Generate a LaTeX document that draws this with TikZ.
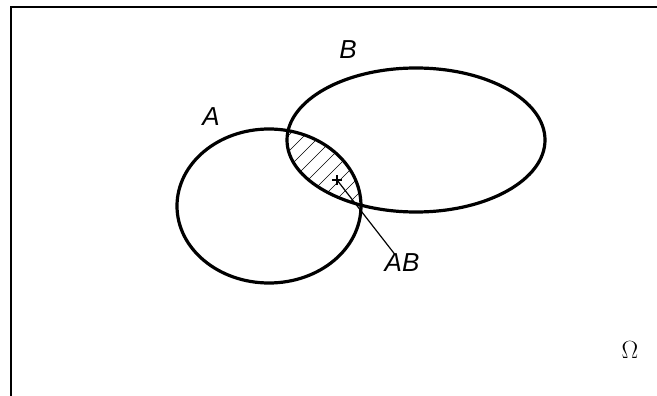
\documentclass[tikz,border=0pt]{standalone}
\usepackage{fontspec}
\newfontfamily\labelfont{Liberation Sans}
\usetikzlibrary{positioning}
\tikzset{
  x=1pt, y=-1pt, % coordinates, y downwards
  setline/.style={line width=3.2pt}, % outline of the sets A and B
  hatch/.style={line width=0.6pt}, % lines inside the intersection
  setlabel/.style={inner sep=0pt, font=\labelfont\itshape\fontsize{26}{26}\selectfont},
}

\begin{document}
\begin{tikzpicture}
    \clip (0,0) rectangle (657,396);
    % sample space
    \draw[line width=2pt] (11,420) -- (11,7) -- (680,7);

    % hatched intersection AB
    \begin{scope}
      \clip (269,206) ellipse [x radius=92pt, y radius=77pt];
      \clip (416,140) ellipse [x radius=129pt, y radius=72pt];
      \foreach \c in {408,424,...,600}
        \draw[hatch] (\c-300,300) -- (\c,0);
    \end{scope}

    \draw[setline] (269,206) ellipse [x radius=92pt, y radius=77pt];
    \draw[setline] (416,140) ellipse [x radius=129pt, y radius=72pt];

    \node[setlabel] (lblA) at (211,117) {A};
    \node[setlabel] (lblB) at (348,50) {B};
    \node[setlabel] (lblAB) at (402,263) {AB};
    \node[inner sep=0pt, font=\fontsize{26}{26}\selectfont] (omega) at (630,350) {$\Omega$};

    % pointer into the intersection
    \coordinate (mark) at (337,180);
    \draw[line width=1.2pt] (mark) -- ([xshift=10pt]lblAB.north west);
    \draw[line width=2pt] ([xshift=-5pt]mark) -- ([xshift=5pt]mark)
      ([yshift=-5pt]mark) -- ([yshift=5pt]mark);
  \end{tikzpicture}
\end{document}
